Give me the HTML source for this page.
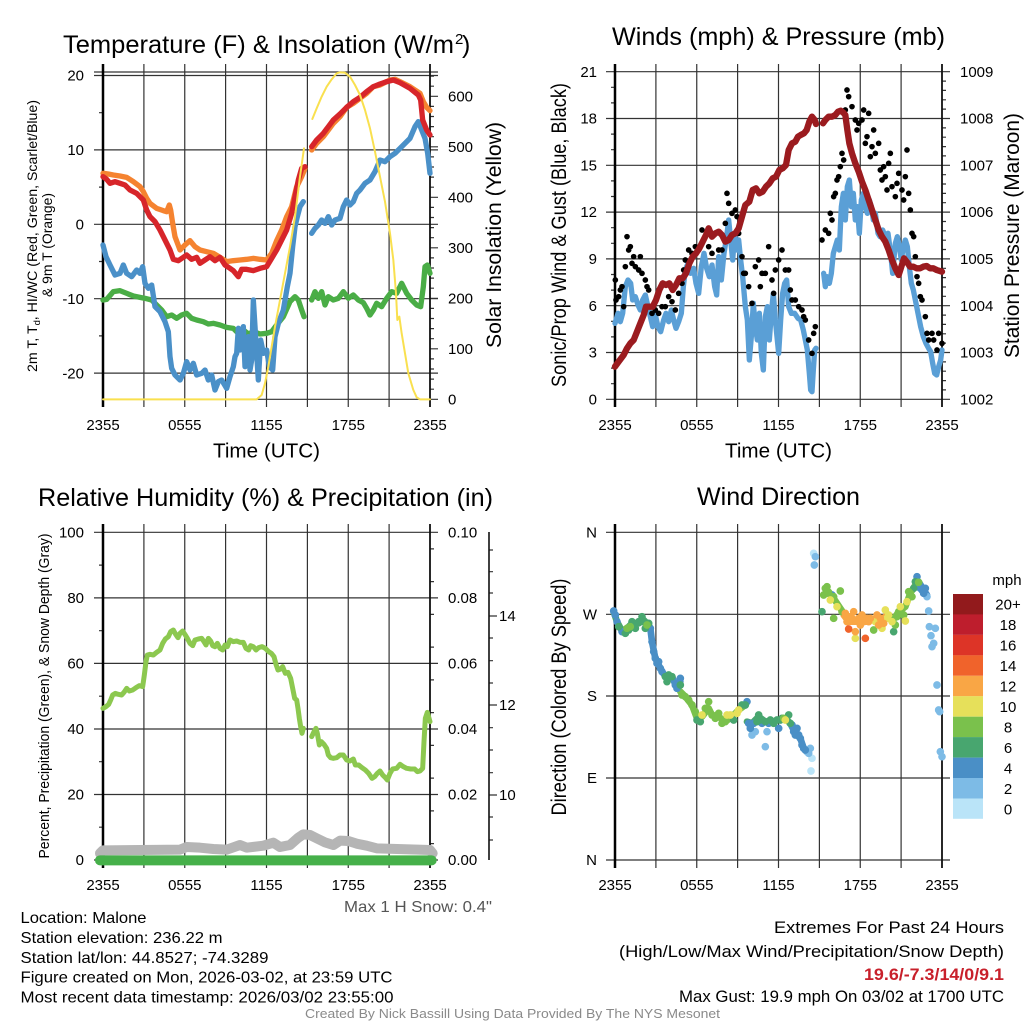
<!DOCTYPE html>
<html><head><meta charset="utf-8"><style>html,body{margin:0;padding:0;background:#fff}svg{display:block}</style></head>
<body>
<svg width="1024" height="1024" viewBox="0 0 1024 1024" xmlns="http://www.w3.org/2000/svg" font-family="'Liberation Sans', Arial, sans-serif">
<rect width="1024" height="1024" fill="#fff"/>

<!-- ============ PANEL 1 GRID ============ -->
<g stroke="#333" stroke-width="1.2" fill="none">
<path d="M143.9 64V407M184.75 64V407M225.6 64V407M266.5 64V407M307.4 64V407M348.25 64V407M389.1 64V407"/>
<path d="M94 72H438M94 75.5H438M94 149.9H438M94 224.3H438M94 298.7H438M94 373.1H438M103 399.3H438"/>
<path d="M99 112.7H103M99 187.1H103M99 261.5H103M99 335.9H103"/>
<path d="M430 389.2h4M430 379.1h4M430 369h4M430 358.9h4M430 338.7h4M430 328.6h4M430 318.5h4M430 308.4h4M430 288.2h4M430 278.1h4M430 268h4M430 257.9h4M430 237.7h4M430 227.6h4M430 217.5h4M430 207.4h4M430 187.2h4M430 177.1h4M430 167h4M430 156.9h4M430 136.7h4M430 126.6h4M430 116.5h4M430 106.4h4M430 86.2h4M430 76.1h4"/>
<path d="M430 348.8h8M430 298.3h8M430 247.8h8M430 197.3h8M430 146.8h8M430 96.3h8"/>
</g>
<path d="M103 64V407" stroke="#000" stroke-width="2.5"/>
<path d="M430 64V407" stroke="#111" stroke-width="1.8"/>

<!-- ============ PANEL 2 GRID ============ -->
<g stroke="#333" stroke-width="1.2" fill="none">
<path d="M655.9 64V407M696.75 64V407M737.6 64V407M778.5 64V407M819.4 64V407M860.25 64V407M901.1 64V407"/>
<path d="M606 71.7H950M606 118.5H950M606 165.3H950M606 212.1H950M606 258.9H950M606 305.7H950M606 352.5H950M606 399.3H950"/>
<path d="M611 383.7h4M611 368.1h4M611 336.9h4M611 321.3h4M611 290.1h4M611 274.5h4M611 243.3h4M611 227.7h4M611 196.5h4M611 180.9h4M611 149.7h4M611 134.1h4M611 102.9h4M611 87.3h4"/>
<path d="M942 389.9h4M942 380.6h4M942 371.2h4M942 361.9h4M942 343.1h4M942 333.8h4M942 324.4h4M942 315.1h4M942 296.3h4M942 287h4M942 277.6h4M942 268.3h4M942 249.5h4M942 240.2h4M942 230.8h4M942 221.5h4M942 202.7h4M942 193.4h4M942 184h4M942 174.7h4M942 155.9h4M942 146.6h4M942 137.2h4M942 127.9h4M942 109.1h4M942 99.8h4M942 90.4h4M942 81.1h4"/>
</g>
<path d="M615 64V407" stroke="#000" stroke-width="2.5"/>
<path d="M942 64V407" stroke="#111" stroke-width="1.8"/>

<!-- ============ PANEL 3 GRID ============ -->
<g stroke="#333" stroke-width="1.2" fill="none">
<path d="M143.9 524V868M184.75 524V868M225.6 524V868M266.5 524V868M307.4 524V868M348.25 524V868M389.1 524V868"/>
<path d="M94 532.3H438M94 597.9H438M94 663.4H438M94 729H438M94 794.5H438M94 860H438"/>
<path d="M99 827.2H103M99 761.7H103M99 696.2H103M99 630.7H103M99 565.1H103"/>
<path d="M430 843.6h4M430 810.9h4M430 778.1h4M430 745.4h4M430 712.6h4M430 679.9h4M430 647.1h4M430 614.4h4M430 581.6h4M430 548.9h4"/>
<path d="M489 616h8M489 705h8M489 795h8"/>
<path d="M489 550h4M489 571.7h4M489 593h4M489 638h4M489 660.7h4M489 683h4M489 727.7h4M489 750h4M489 772.7h4M489 817h4M489 840h4"/>
</g>
<path d="M489 532V860" stroke="#111" stroke-width="1.6"/>
<path d="M103 524V868" stroke="#000" stroke-width="2.5"/>
<path d="M430 524V868" stroke="#111" stroke-width="1.8"/>

<!-- ============ PANEL 4 GRID ============ -->
<g stroke="#333" stroke-width="1.2" fill="none">
<path d="M655.9 524V868M696.75 524V868M737.6 524V868M778.5 524V868M819.4 524V868M860.25 524V868M901.1 524V868"/>
<path d="M606 532.3H950M606 614.3H950M606 696H950M606 778H950M606 860H950"/>
</g>
<path d="M615 524V868" stroke="#000" stroke-width="2.5"/>
<path d="M942 524V868" stroke="#111" stroke-width="1.8"/>

<!-- ============ PANEL 1 DATA ============ -->
<g transform="translate(0,20) scale(0.333333)" fill="none" stroke-linejoin="round" stroke-linecap="round">
<g stroke="#4aad46" stroke-width="16">
<polyline points="309,840 320,838 340,815 360,812 380,820 400,828 420,832 435,835 455,840 470,855 485,870 500,890 515,885 530,895 545,885 560,880 575,895 590,900 610,905 625,912 640,910 660,915 680,922 700,925 715,940 730,930 745,942 760,935 780,942 800,940 815,935 830,915 850,890 870,845 885,830 895,840 905,870 912,890"/>
<polyline points="935,840 945,815 955,835 965,815 975,855 985,830 1000,840 1015,835 1030,815 1045,835 1060,825 1075,840 1090,848 1100,865 1110,885 1120,870 1130,850 1145,860 1160,835 1175,815 1190,820 1205,790 1220,820 1235,840 1250,855 1262,860 1270,800 1275,740 1282,735 1290,760"/>
</g>
<g stroke="#4a90c8" stroke-width="16">
<polyline points="309,675 318,710 330,735 345,765 360,760 370,735 380,760 395,770 410,750 420,760 428,740 435,790 445,805 455,795 465,860 480,875 495,905 505,935 510,1010 515,1045 525,1065 540,1080 550,1060 560,1025 570,1050 580,1030 590,1065 605,1060 615,1050 625,1080 635,1065 645,1110 655,1085 665,1080 680,1105 690,1070 700,1040 705,1010 710,1000 715,925 720,990 730,920 735,1040 745,950 750,1050 755,1020 760,840 770,1000 775,1080 782,960 790,1000 800,990 808,1040 818,1050 825,950 835,910 850,870 862,800 870,760 878,680 885,620 892,590 900,560 910,545"/>
<polyline points="935,640 945,625 955,615 965,600 975,610 985,590 995,615 1005,600 1020,595 1030,560 1040,540 1050,555 1060,545 1070,520 1080,510 1095,490 1110,480 1125,455 1140,420 1155,425 1170,410 1185,400 1200,385 1215,370 1230,355 1245,320 1255,305 1265,330 1275,355 1283,400 1290,460"/>
</g>
<g stroke="#f58330" stroke-width="16">
<polyline points="309,460 325,462 340,465 360,468 380,472 400,485 420,500 430,515 440,535 450,550 470,565 490,572 500,575 508,555 512,570 518,610 525,650 540,690 555,675 570,662 585,680 600,690 620,695 640,700 660,712 680,725 700,722 720,720 740,718 760,715 780,718 800,720 815,700 830,662 845,630 860,590 875,560 890,500 905,470 915,445"/>
<polyline points="935,390 950,370 970,350 985,330 1000,310 1020,290 1040,262 1060,250 1080,235 1100,220 1120,200 1140,195 1170,180 1185,178 1200,185 1230,200 1260,220 1270,245 1280,262 1290,272"/>
</g>
<g stroke="#d7252a" stroke-width="16">
<polyline points="309,470 320,478 330,490 345,485 360,490 375,495 390,510 410,520 430,540 440,570 450,590 465,605 480,630 495,660 510,690 520,718 535,722 550,712 560,705 575,718 590,712 600,730 615,720 630,710 645,722 660,712 675,735 690,745 700,752 715,770 725,748 740,748 760,752 780,745 800,740 815,715 830,690 845,660 860,630 875,580 885,530 895,480 905,445 915,440"/>
<polyline points="935,380 950,360 970,340 985,320 1000,300 1020,282 1040,262 1060,245 1080,232 1100,215 1120,200 1140,192 1160,185 1180,180 1200,188 1230,205 1255,225 1262,240 1268,300 1280,330 1290,345"/>
</g>
<g stroke="#f9e04f" stroke-width="6">
<polyline points="309,1138 770,1138 785,1125 795,1090 805,1040 815,980 825,920 840,840 855,760 870,680 885,590 900,470 912,385"/>
<polyline points="937,297 950,265 965,230 980,200 995,178 1010,160 1020,157 1035,158 1050,170 1065,195 1080,225 1095,270 1110,325 1125,395 1140,470 1155,545 1170,640 1180,720 1188,820 1192,900 1198,890 1205,940 1215,1000 1225,1060 1240,1110 1250,1132 1260,1138 1290,1138"/>
</g>
</g>

<!-- ============ PANEL 2 DATA ============ -->
<g transform="translate(512,20) scale(0.333333)" fill="none" stroke-linejoin="round" stroke-linecap="round">
<g stroke="#5a9fd6" stroke-width="16">
<polyline points="309,910 318,880 325,905 332,880 340,800 348,780 356,790 362,840 370,830 378,855 385,870 392,840 400,825 408,860 415,890 422,920 430,885 438,920 446,935 455,900 462,880 470,905 478,870 485,900 492,925 500,905 508,880 514,800 520,750 528,730 536,760 545,745 552,790 560,820 568,740 576,700 584,745 592,770 600,735 608,800 614,825 620,710 628,780 636,700 644,650 650,600 656,660 662,720 668,640 674,690 680,660 686,720 692,770 700,860 706,900 712,1020 718,950 724,850 730,920 736,960 742,880 748,1000 754,1050 760,890 766,860 772,960 778,880 784,820 790,900 796,960 800,1000 806,900 812,820 818,790 824,780 830,860 838,880 848,880 858,895 866,900 874,930 880,960 886,990 892,1060 896,1110 900,1115 904,1050 908,990 912,985"/>
<polyline points="935,760 940,800 945,770 952,790 958,760 964,700 970,680 976,660 982,690 988,560 994,520 1000,600 1006,500 1012,480 1018,560 1024,520 1030,600 1036,560 1042,640 1048,540 1054,520 1060,560 1066,580 1072,540 1078,560 1084,600 1090,580 1098,640 1104,650 1112,630 1120,650 1128,640 1136,700 1142,760 1150,670 1156,650 1162,680 1168,720 1174,680 1180,660 1186,680 1192,740 1198,790 1204,810 1210,840 1218,880 1226,920 1234,950 1242,970 1250,985 1256,995 1262,1030 1268,1060 1274,1065 1280,1040 1286,1020 1290,990"/>
</g>
<path stroke="#000" stroke-width="17" d="M310 780h0M312 840h0M320 830h0M325 810h0M330 800h0M335 860h0M340 740h0M345 650h0M350 690h0M355 680h0M360 730h0M365 710h0M370 740h0M380 750h0M385 710h0M390 760h0M400 780h0M405 800h0M410 810h0M420 880h0M430 870h0M440 880h0M450 860h0M460 860h0M470 830h0M480 845h0M490 870h0M500 820h0M510 790h0M515 750h0M520 720h0M530 690h0M540 700h0M550 680h0M560 690h0M570 630h0M580 650h0M590 680h0M600 700h0M610 640h0M620 690h0M630 690h0M640 610h0M645 520h0M650 550h0M660 580h0M670 570h0M675 590h0M680 640h0M690 710h0M695 760h0M700 760h0M710 800h0M720 850h0M730 740h0M740 720h0M745 800h0M750 760h0M760 760h0M770 680h0M780 780h0M785 820h0M790 750h0M800 720h0M810 690h0M820 750h0M830 750h0M835 810h0M840 840h0M850 840h0M860 860h0M870 870h0M875 890h0M880 900h0M890 960h0M900 1000h0M905 940h0M910 920h0M930 660h0M940 630h0M950 640h0M955 580h0M960 600h0M965 530h0M970 520h0M975 480h0M980 470h0M985 440h0M990 400h0M995 420h0M1000 270h0M1005 210h0M1010 230h0M1020 260h0M1030 300h0M1035 330h0M1040 310h0M1050 300h0M1055 270h0M1060 370h0M1065 350h0M1070 280h0M1075 410h0M1080 380h0M1085 330h0M1090 400h0M1100 370h0M1105 450h0M1110 480h0M1115 440h0M1120 470h0M1125 510h0M1130 430h0M1135 400h0M1140 500h0M1150 530h0M1155 490h0M1160 460h0M1170 510h0M1175 540h0M1180 470h0M1185 390h0M1190 520h0M1195 570h0M1200 640h0M1205 650h0M1210 710h0M1215 770h0M1220 790h0M1225 830h0M1230 840h0M1240 890h0M1245 940h0M1250 960h0M1260 940h0M1265 960h0M1275 990h0M1280 940h0M1290 970h0"/>
<g stroke="#9b1b1f" stroke-width="19">
<polyline points="309,1040 320,1025 335,1005 345,985 355,970 365,960 375,935 385,910 395,885 402,860 412,860 422,860 432,840 442,810 452,790 462,795 472,790 482,810 492,795 502,775 512,775 522,760 532,730 542,710 552,700 562,685 572,665 582,645 590,625 600,650 610,640 620,635 630,645 640,665 650,660 660,645 670,640 680,625 690,590 700,555 712,545 722,510 732,505 742,520 752,515 762,500 772,490 782,475 792,470 802,450 812,445 822,435 830,390 840,370 850,365 858,350 866,345 876,340 884,330 892,305 900,290 908,300 912,312"/>
<polyline points="933,310 940,300 950,290 960,290 970,285 978,275 986,272 994,278 1000,285 1006,330 1012,370 1020,400 1030,430 1040,455 1050,485 1060,510 1070,540 1080,570 1090,600 1100,630 1110,650 1120,665 1130,690 1140,720 1150,745 1160,765 1168,740 1176,715 1184,725 1194,740 1204,740 1214,745 1224,745 1234,740 1244,738 1254,745 1264,745 1274,750 1290,755"/>
</g>
</g>

<!-- ============ PANEL 3 DATA ============ -->
<g transform="translate(0,475) scale(0.333333)" fill="none" stroke-linejoin="round" stroke-linecap="round">
<polyline stroke="#b5b5b5" stroke-width="30" points="300,1135 309,1126 540,1124 560,1116 600,1118 640,1122 680,1124 720,1110 740,1118 790,1112 820,1103 840,1116 870,1110 895,1088 910,1078 930,1080 950,1090 975,1102 1000,1110 1020,1097 1045,1098 1070,1106 1100,1112 1130,1120 1290,1125 1298,1135"/>
<line stroke="#46b04a" stroke-width="30" x1="300" y1="1156" x2="1295" y2="1156"/>
<g stroke="#8cc84f" stroke-width="15">
<polyline points="309,700 318,695 326,688 332,675 338,660 346,655 355,658 365,660 372,652 380,640 388,648 398,645 408,638 418,632 428,635 433,600 438,560 442,540 450,538 460,540 470,532 480,525 488,505 496,492 505,485 512,470 520,465 527,478 534,488 540,475 548,468 556,480 562,490 570,505 578,512 585,495 595,492 605,490 612,500 618,510 625,490 632,498 638,512 645,515 652,505 660,520 668,525 675,510 682,515 690,495 700,500 710,498 720,502 730,502 738,520 746,525 752,512 760,515 768,525 776,518 786,515 796,520 806,530 814,535 822,545 828,568 834,585 842,582 848,575 856,595 864,592 872,610 878,640 884,670 890,675 894,700 898,730 902,755 906,775 910,760"/>
<polyline points="935,785 942,770 948,760 952,775 958,810 964,800 972,808 980,820 985,840 992,848 1000,850 1010,848 1020,840 1030,840 1040,855 1050,858 1060,852 1066,870 1076,870 1086,878 1096,885 1106,895 1116,910 1124,905 1132,895 1140,888 1148,900 1156,908 1162,915 1170,895 1178,882 1190,880 1200,868 1210,875 1220,880 1232,882 1244,882 1252,890 1260,888 1268,880 1272,800 1276,730 1282,712 1290,740"/>
</g>
</g>

<!-- ============ PANEL 4 DATA ============ -->
<g transform="translate(512,475) scale(0.333333)" fill="none" stroke-linecap="round" stroke-linejoin="round" stroke-width="20">
<polyline stroke="#48a66f" points="305,410 315,440 330,468 345,460 360,445 380,445 395,435 410,450 415,460"/>
<polyline stroke="#4a8fc6" points="415,460 420,500 430,550 445,580 460,605 480,605 495,640 505,620"/>
<polyline stroke="#7ac14c" points="505,650 520,665 540,690 555,730 570,725 590,700 600,720 620,725 640,740 660,725 680,705 700,690"/>
<polyline stroke="#48a66f" points="705,740 720,745 740,725 760,740 780,740 800,735 820,730 835,745"/>
<polyline stroke="#4a8fc6" points="835,745 850,775 865,790 875,820 890,835"/>
<polyline stroke="#7ac14c" points="935,360 950,350 965,370 985,400 995,415"/>
<polyline stroke="#f9a645" points="995,420 1010,440 1030,440 1060,440 1080,435 1100,440 1120,425"/>
<polyline stroke="#7ac14c" points="1140,440 1160,410 1180,395 1195,355 1210,330"/>
<polyline stroke="#4a8fc6" points="1210,320 1220,320 1235,345 1245,360"/>
<g stroke-width="23">
<path stroke="#bae4f8" d="M900 850h0M897 888h0M905 235h0"/>
<path stroke="#7dbbe6" d="M720 780h0M730 770h0M765 770h0M760 815h0M885 830h0M890 835h0M895 820h0M910 245h0M907 270h0M1245 365h0M1250 408h0M1252 455h0M1257 482h0M1260 515h0M1265 505h0M1270 460h0M1275 630h0M1280 705h0M1283 710h0M1285 830h0M1290 845h0"/>
<path stroke="#4a8fc6" d="M305 408h0M310 420h0M315 440h0M330 470h0M415 460h0M420 500h0M425 530h0M430 550h0M435 565h0M440 560h0M445 580h0M450 590h0M490 630h0M495 640h0M505 610h0M705 680h0M710 745h0M715 760h0M725 745h0M750 745h0M770 745h0M800 760h0M840 750h0M845 770h0M850 780h0M855 760h0M860 780h0M865 790h0M870 810h0M875 820h0M880 825h0M960 360h0M1215 305h0M1225 340h0M1230 345h0M1235 355h0M1240 340h0"/>
<path stroke="#48a66f" d="M320 455h0M340 475h0M350 465h0M360 440h0M370 460h0M380 440h0M390 425h0M395 440h0M400 460h0M410 445h0M460 605h0M465 620h0M470 600h0M480 605h0M505 630h0M555 735h0M565 740h0M665 735h0M690 690h0M700 690h0M735 740h0M740 720h0M745 735h0M760 740h0M775 735h0M785 745h0M795 735h0M805 735h0M810 730h0M830 720h0M835 745h0M930 410h0M1145 470h0M1205 340h0M1210 320h0"/>
<path stroke="#7ac14c" d="M345 460h0M355 455h0M405 450h0M510 660h0M520 665h0M530 675h0M540 690h0M550 710h0M580 700h0M590 680h0M600 720h0M610 730h0M620 715h0M630 745h0M640 740h0M815 730h0M935 360h0M940 340h0M945 335h0M950 355h0M965 365h0M965 430h0M985 348h0M990 410h0M1085 465h0M1150 450h0M1155 425h0M1160 410h0M1170 400h0M1175 420h0M1190 350h0M1195 355h0M1200 365h0M1220 322h0"/>
<path stroke="#e6e05a" d="M570 720h0M645 720h0M655 720h0M675 715h0M680 705h0M820 735h0M955 375h0M975 395h0M1030 490h0M1090 440h0M1110 460h0M1120 405h0M1125 430h0M1130 420h0M1140 440h0M1165 395h0M1180 438h0M1185 380h0"/>
<path stroke="#f9a645" d="M1000 415h0M1005 440h0M1015 425h0M1020 430h0M1025 410h0M1030 470h0M1040 430h0M1045 450h0M1050 420h0M1055 440h0M1065 430h0M1070 440h0M1075 430h0M1095 420h0M1100 450h0M1105 430h0M1115 445h0"/>
<path stroke="#f0632b" d="M1010 462h0M1060 490h0"/>
</g>
</g>

<!-- Colorbar -->
<g>
<rect x="953" y="594" width="30" height="20.5" fill="#921a1c"/>
<rect x="953" y="614.4" width="30" height="20.5" fill="#be1e2d"/>
<rect x="953" y="634.9" width="30" height="20.5" fill="#dd3427"/>
<rect x="953" y="655.3" width="30" height="20.5" fill="#f0632b"/>
<rect x="953" y="675.8" width="30" height="20.5" fill="#f9a645"/>
<rect x="953" y="696.2" width="30" height="20.5" fill="#e6e05a"/>
<rect x="953" y="716.7" width="30" height="20.5" fill="#7ac14c"/>
<rect x="953" y="737.1" width="30" height="20.5" fill="#48a66f"/>
<rect x="953" y="757.6" width="30" height="20.5" fill="#4a8fc6"/>
<rect x="953" y="778" width="30" height="20.5" fill="#7dbbe6"/>
<rect x="953" y="798.5" width="30" height="20.3" fill="#bae4f8"/>
</g>
<g font-size="15" fill="#000" text-anchor="middle">
<text x="1007" y="585">mph</text>
<text x="1008" y="609.5">20+</text>
<text x="1008" y="630">18</text>
<text x="1008" y="650.5">16</text>
<text x="1008" y="671">14</text>
<text x="1008" y="691.5">12</text>
<text x="1008" y="712">10</text>
<text x="1008" y="732.5">8</text>
<text x="1008" y="753">6</text>
<text x="1008" y="773.5">4</text>
<text x="1008" y="794">2</text>
<text x="1008" y="814.5">0</text>
</g>

<!-- ============ TICK LABELS ============ -->
<g font-size="15" fill="#000" text-anchor="middle">
<text x="103" y="430">2355</text><text x="184.75" y="430">0555</text><text x="266.5" y="430">1155</text><text x="348.25" y="430">1755</text><text x="430" y="430">2355</text>
<text x="615" y="430">2355</text><text x="696.75" y="430">0555</text><text x="778.5" y="430">1155</text><text x="860.25" y="430">1755</text><text x="942" y="430">2355</text>
<text x="103" y="890">2355</text><text x="184.75" y="890">0555</text><text x="266.5" y="890">1155</text><text x="348.25" y="890">1755</text><text x="430" y="890">2355</text>
<text x="615" y="890">2355</text><text x="696.75" y="890">0555</text><text x="778.5" y="890">1155</text><text x="860.25" y="890">1755</text><text x="942" y="890">2355</text>
</g>
<g font-size="15" fill="#000" text-anchor="end">
<text x="84" y="80.5">20</text><text x="84" y="155">10</text><text x="84" y="229.5">0</text><text x="84" y="304">-10</text><text x="84" y="378.5">-20</text>
<text x="597" y="77">21</text><text x="597" y="123.5">18</text><text x="597" y="170.5">15</text><text x="597" y="217">12</text><text x="597" y="264">9</text><text x="597" y="311">6</text><text x="597" y="357.5">3</text><text x="597" y="404.5">0</text>
<text x="84" y="537.5">100</text><text x="84" y="603">80</text><text x="84" y="668.5">60</text><text x="84" y="734">40</text><text x="84" y="799.5">20</text><text x="84" y="865">0</text>
<text x="597" y="537.5">N</text><text x="597" y="619.5">W</text><text x="597" y="701">S</text><text x="597" y="783">E</text><text x="597" y="865">N</text>
</g>
<g font-size="15" fill="#000">
<text x="448" y="101.5">600</text><text x="448" y="152">500</text><text x="448" y="202.5">400</text><text x="448" y="253">300</text><text x="448" y="303.5">200</text><text x="448" y="354">100</text><text x="448" y="404.5">0</text>
<text x="960" y="77">1009</text><text x="960" y="123.5">1008</text><text x="960" y="170.5">1007</text><text x="960" y="217">1006</text><text x="960" y="264">1005</text><text x="960" y="311">1004</text><text x="960" y="357.5">1003</text><text x="960" y="404.5">1002</text>
<text x="448" y="537.5">0.10</text><text x="448" y="603">0.08</text><text x="448" y="668.5">0.06</text><text x="448" y="734">0.04</text><text x="448" y="799.5">0.02</text><text x="448" y="865">0.00</text>
<text x="499" y="621">14</text><text x="499" y="710">12</text><text x="499" y="800">10</text>
</g>

<!-- ============ TITLES ============ -->
<g fill="#000">
<text x="63" y="53" font-size="25" textLength="391" lengthAdjust="spacingAndGlyphs">Temperature (F) &amp; Insolation (W/m</text>
<text x="455" y="44" font-size="15">2</text>
<text x="462" y="53" font-size="25">)</text>
<text x="612" y="45" font-size="25" textLength="333" lengthAdjust="spacingAndGlyphs">Winds (mph) &amp; Pressure (mb)</text>
<text x="38" y="506" font-size="25" textLength="455" lengthAdjust="spacingAndGlyphs">Relative Humidity (%) &amp; Precipitation (in)</text>
<text x="697" y="505" font-size="25" textLength="163" lengthAdjust="spacingAndGlyphs">Wind Direction</text>

<text x="213" y="457.5" font-size="20" textLength="107" lengthAdjust="spacingAndGlyphs">Time (UTC)</text>
<text x="725" y="457.5" font-size="20" textLength="107" lengthAdjust="spacingAndGlyphs">Time (UTC)</text>

<text transform="translate(37,236) rotate(-90)" text-anchor="middle" font-size="14" textLength="272" lengthAdjust="spacingAndGlyphs">2m T, T<tspan font-size="9" dy="3">d</tspan><tspan dy="-3">, HI/WC (Red, Green, Scarlet/Blue)</tspan></text>
<text transform="translate(52,245) rotate(-90)" text-anchor="middle" font-size="14" textLength="104" lengthAdjust="spacingAndGlyphs">&amp; 9m T (Orange)</text>
<text transform="translate(501,235) rotate(-90)" text-anchor="middle" font-size="21" textLength="226" lengthAdjust="spacingAndGlyphs">Solar Insolation (Yellow)</text>
<text transform="translate(566,235) rotate(-90)" text-anchor="middle" font-size="21" textLength="304" lengthAdjust="spacingAndGlyphs">Sonic/Prop Wind &amp; Gust (Blue, Black)</text>
<text transform="translate(1019,235.5) rotate(-90)" text-anchor="middle" font-size="21" textLength="245" lengthAdjust="spacingAndGlyphs">Station Pressure (Maroon)</text>
<text transform="translate(49,696) rotate(-90)" text-anchor="middle" font-size="15" textLength="325" lengthAdjust="spacingAndGlyphs">Percent, Precipitation (Green), &amp; Snow Depth (Gray)</text>
<text transform="translate(566,697) rotate(-90)" text-anchor="middle" font-size="21" textLength="237" lengthAdjust="spacingAndGlyphs">Direction (Colored By Speed)</text>
</g>

<!-- ============ FOOTER TEXT ============ -->
<text x="344" y="912" font-size="16" fill="#555" textLength="148" lengthAdjust="spacingAndGlyphs">Max 1 H Snow: 0.4"</text>
<g font-size="16" fill="#000">
<text x="20.5" y="923" textLength="126" lengthAdjust="spacingAndGlyphs">Location: Malone</text>
<text x="20.5" y="943" textLength="202" lengthAdjust="spacingAndGlyphs">Station elevation: 236.22 m</text>
<text x="20.5" y="963" textLength="248" lengthAdjust="spacingAndGlyphs">Station lat/lon: 44.8527; -74.3289</text>
<text x="20.5" y="982.5" textLength="372" lengthAdjust="spacingAndGlyphs">Figure created on Mon, 2026-03-02, at 23:59 UTC</text>
<text x="20.5" y="1002.5" textLength="373" lengthAdjust="spacingAndGlyphs">Most recent data timestamp: 2026/03/02 23:55:00</text>
</g>
<g font-size="17" fill="#000">
<text x="774" y="933" textLength="230" lengthAdjust="spacingAndGlyphs">Extremes For Past 24 Hours</text>
<text x="619" y="957" textLength="385" lengthAdjust="spacingAndGlyphs">(High/Low/Max Wind/Precipitation/Snow Depth)</text>
<text x="864" y="980" font-weight="bold" fill="#c8202b" textLength="140" lengthAdjust="spacingAndGlyphs">19.6/-7.3/14/0/9.1</text>
<text x="679" y="1002" textLength="325" lengthAdjust="spacingAndGlyphs">Max Gust: 19.9 mph On 03/02 at 1700 UTC</text>
</g>
<text x="305" y="1018" font-size="13" fill="#8a8a8a" textLength="415" lengthAdjust="spacingAndGlyphs">Created By Nick Bassill Using Data Provided By The NYS Mesonet</text>
</svg>
</body></html>
